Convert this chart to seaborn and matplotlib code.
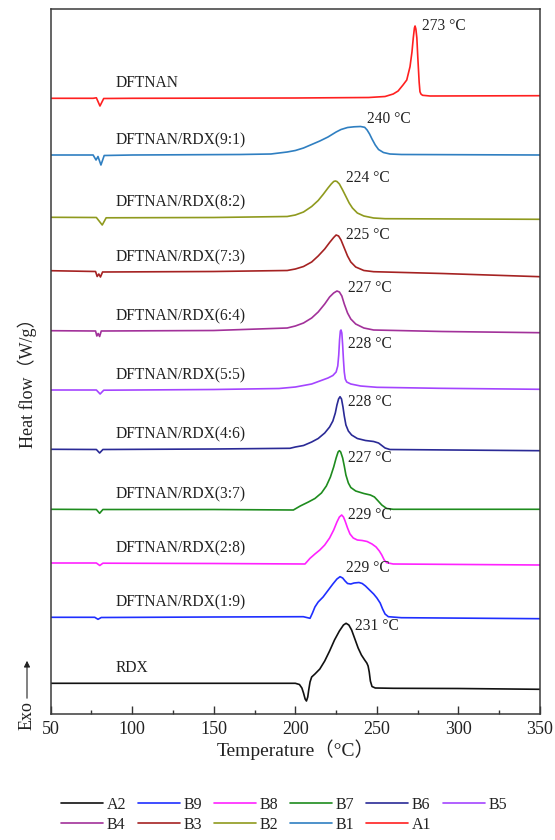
import numpy as np
import pandas as pd
import matplotlib
matplotlib.use("Agg")
import matplotlib.pyplot as plt
import seaborn as sns

# ---------------- data (heat flow in arbitrary stacked units) ----------------
series_codes = ["A1", "B1", "B2", "B3", "B4", "B5", "B6", "B7", "B8", "B9", "A2"]
series_names = ["DFTNAN", "DFTNAN/RDX(9:1)", "DFTNAN/RDX(8:2)", "DFTNAN/RDX(7:3)",
                "DFTNAN/RDX(6:4)", "DFTNAN/RDX(5:5)", "DFTNAN/RDX(4:6)",
                "DFTNAN/RDX(3:7)", "DFTNAN/RDX(2:8)", "DFTNAN/RDX(1:9)", "RDX"]
peak_labels = ["273 °C", "240 °C", "224 °C", "225 °C", "227 °C", "228 °C",
               "228 °C", "227 °C", "229 °C", "229 °C", "231 °C"]

T_A1 = [50, 76, 78, 80.2, 82.5, 100, 200, 245, 255, 260, 263, 266, 268.3, 270.3, 271.5,
        272.3, 273, 273.4, 273.9, 274.5, 275, 275.5, 275.9, 276.4, 277, 278, 282.6, 350]
H_A1 = [615.7, 615.7, 616.2, 608, 615.5, 615.7, 616, 616.5, 617.5, 620, 623, 629, 634,
        647.3, 662, 676, 686, 688, 685, 676, 659, 644, 632, 622.3, 620, 618.7, 618, 618.3]

T_B1 = [50, 76, 77.8, 79, 80.8, 82.8, 100, 166, 185, 195, 200, 205, 210, 215, 220, 225,
        228, 232, 236, 240, 242.5, 244, 245.5, 247, 249, 251, 254, 258, 265, 350]
H_B1 = [559, 559, 554, 557.5, 549, 558.5, 559, 559.5, 560, 562, 563.5, 566, 569.5, 573,
        577, 582, 584.5, 586.5, 587.2, 587.5, 586.7, 584, 580, 575, 569, 564.5, 561.5,
        560, 559.5, 559]

T_B2 = [50, 78, 81.6, 84, 150, 195, 200, 205, 210, 214, 217, 220, 222, 223.5, 224.5,
        225.5, 227, 229, 231, 233, 235, 238, 242, 248, 255, 350]
H_B2 = [496.7, 496.5, 489, 496.2, 496.5, 497.5, 499, 502, 507.5, 513.5, 519.5, 526, 530,
        532.5, 533, 532.5, 530, 524, 517.5, 511, 506, 501, 498, 496, 495.3, 494.7]

T_B3 = [50, 77.5, 78.5, 79.5, 80.5, 81.8, 150, 195, 200, 205, 210, 214, 218, 221, 223.5,
        225, 226.5, 228, 230, 232, 234, 237, 242, 248, 290, 350]
H_B3 = [443.3, 442.5, 437.5, 440, 437, 442, 442.5, 443.5, 445, 447.5, 452, 458, 465,
        471.5, 476.5, 479, 478, 474, 466, 458, 452, 447, 443.5, 442.3, 440.5, 437.3]

T_B4 = [50, 77.5, 78.3, 79.1, 80, 81, 150, 195, 200, 205, 210, 214, 218, 221, 223.5,
        225.5, 227, 228.5, 230, 232, 234, 237, 242, 248, 290, 350]
H_B4 = [383.3, 383, 378, 380.5, 377.5, 383, 383.5, 386, 388, 391, 396, 402, 410, 417,
        421, 423, 422, 418, 410, 401, 395, 390, 386, 384, 382.5, 381.3]

T_B5 = [50, 78, 80.3, 82.5, 150, 190, 200, 210, 215, 220, 223, 225, 226, 226.6, 227.1,
        227.6, 228, 228.5, 229, 229.5, 230, 230.6, 231.5, 234, 240, 250, 288, 350]
H_B5 = [324, 324, 320, 323.8, 324.5, 325.5, 327, 330, 333, 336, 338.5, 342, 348, 359,
        374, 383, 384, 381, 369, 354, 342, 335, 332, 330, 328, 326.7, 325.7, 324.7]

T_B6 = [50, 78, 80, 82, 150, 196.7, 200, 205, 210, 214, 218, 221, 223, 224.5, 225.5,
        226.5, 227.4, 228.3, 229.2, 230, 231, 232.5, 234.5, 238, 243, 248, 251, 253, 255,
        258, 350]
H_B6 = [264.7, 264.5, 261, 264.5, 265, 265.7, 267, 268.5, 272, 275.5, 281, 287, 293,
        301, 309, 315, 317.3, 315, 307, 298, 289, 283, 279, 275.5, 273.5, 272.5, 271,
        268.5, 266, 264.5, 263.3]

T_B7 = [50, 78, 80, 82, 150, 198.8, 203, 208, 212, 216, 219, 221.5, 223.5, 225, 226.2,
        227, 227.8, 229, 230, 231, 232.5, 234, 237, 242, 246, 248.5, 250.5, 253, 256,
        260, 350]
H_B7 = [204.7, 204.5, 200.7, 204.5, 204.5, 204, 208, 212, 215.5, 221, 228, 237, 247,
        256, 262, 263.3, 262, 256, 248, 239, 231, 226.5, 223, 220.5, 219, 217, 213.5,
        209, 205.5, 204.7, 204.7]

T_B8 = [50, 78, 80.1, 82, 150, 205.9, 207, 209, 212, 215, 218, 221, 223.5, 225.5, 227,
        228.4, 229.5, 230.5, 232, 233.5, 235.5, 238, 241, 244, 247, 249.5, 251.5, 253,
        254.5, 256, 260, 350]
H_B8 = [151, 151, 148.5, 150.8, 150.5, 150, 152, 155.7, 160, 164, 169, 176, 184, 192,
        197, 199, 197, 193, 186, 180, 176, 174, 173.5, 172.5, 170, 167, 163, 159, 154,
        151.3, 150, 149]

T_B9 = [50, 77, 79, 81, 150, 204.9, 209, 210.5, 212, 214, 217, 220, 223, 225.5, 227.4,
        229, 230.5, 232, 234, 236, 239, 241, 243, 245.5, 248, 250, 252, 253.5, 255, 257,
        265, 350]
H_B9 = [96.7, 96.7, 94.7, 96.5, 97, 97.3, 95.7, 101, 107, 112, 117, 123.5, 130, 135,
        137.3, 136, 133, 130.5, 130, 131, 131.5, 130.5, 128, 124, 120, 116, 111, 105, 100,
        97.3, 96.3, 95.3]

T_A2 = [50, 150, 200, 202.5, 204, 205, 206, 206.8, 207.6, 208.2, 209, 210, 212, 215,
        218, 221, 224, 227, 229.5, 231.1, 232.8, 234.5, 236.5, 238.5, 240.5, 242.5, 243.8,
        244.6, 245.3, 246, 247, 249, 260, 300, 350]
H_A2 = [30.7, 30.7, 30.7, 29.5, 26, 21, 15, 13, 17, 24, 32, 37, 40, 45, 53, 63, 74, 83,
        89, 90.7, 89, 84, 75, 66, 59, 54, 51, 48, 42, 33, 27.5, 26, 25.7, 25.5, 24.7]

temps = [T_A1, T_B1, T_B2, T_B3, T_B4, T_B5, T_B6, T_B7, T_B8, T_B9, T_A2]
flows = [H_A1, H_B1, H_B2, H_B3, H_B4, H_B5, H_B6, H_B7, H_B8, H_B9, H_A2]

x_ticks = [50, 100, 150, 200, 250, 300, 350]

# ---------------- styles ----------------
colors = {"A1": "#ff2020", "B1": "#2f7fc1", "B2": "#8f9a1e", "B3": "#a52222",
          "B4": "#a2319a", "B5": "#a445ff", "B6": "#2a2a96", "B7": "#1e8c1e",
          "B8": "#ff22ff", "B9": "#1f2fff", "A2": "#111111"}
# (dx, dy) offsets in points for the peak-temperature labels
peak_offsets = [(4.8, 0), (4.3, 5.2), (7.8, 2), (7.2, 0), (8.2, 2), (5.3, -10),
                (6, -3.6), (6.5, -5.5), (4.8, 0), (4.3, 6), (6.5, -2)]

sns.set_theme(style="white")
serif = ["Liberation Serif", "DejaVu Serif"]
cjk = ["Liberation Serif", "Noto Sans CJK SC", "DejaVu Sans"]
plt.rcParams["font.family"] = serif
plt.rcParams["text.color"] = "#222222"

fig = plt.figure(figsize=(5.55, 8.40), dpi=100)
ax = fig.add_axes([50.7 / 555, 1 - 714 / 840, (540 - 50.7) / 555, (714 - 8.7) / 840])

frames = []
for code, T, H in zip(series_codes, temps, flows):
    frames.append(pd.DataFrame({"Temperature": T, "Heat flow": H, "code": code}))
df = pd.concat(frames, ignore_index=True)

handles = {}
for code in series_codes:
    sub = df[df["code"] == code]
    sns.lineplot(data=sub, x="Temperature", y="Heat flow", color=colors[code],
                 lw=1.2, sort=False, estimator=None, label=code, ax=ax)
    handles[code] = ax.get_lines()[-1]
if ax.get_legend() is not None:
    ax.get_legend().remove()

# curve names and peak labels
for i, code in enumerate(series_codes):
    T = np.asarray(temps[i]); H = np.asarray(flows[i])
    y_at = np.interp(90, T, H)
    ax.annotate(series_names[i], xy=(90, y_at), xytext=(0, 10.8),
                textcoords="offset points", ha="left", va="center",
                fontsize=11.2, color="#222222")
    k = int(np.argmax(H))
    ax.annotate(peak_labels[i], xy=(T[k], H[k]), xytext=peak_offsets[i],
                textcoords="offset points", ha="left", va="center",
                fontsize=11.2, color="#222222")

ax.set_xlim(50, 350)
ax.set_ylim(0, 705.3)
ax.set_yticks([])
ax.set_xticks(x_ticks)
ax.set_xticklabels([str(t) for t in x_ticks])
ax.set_xticks(np.arange(75, 350, 50), minor=True)
ax.tick_params(axis="x", which="major", direction="in", length=6, width=1.0,
               labelsize=13, pad=5, bottom=True, top=False, colors="#333333",
               labelcolor="#222222")
ax.tick_params(axis="x", which="minor", direction="in", length=3, width=1.0,
               bottom=True, top=False, colors="#333333")
for s in ax.spines.values():
    s.set_color("#3a3a3a")
    s.set_linewidth(1.1)
    s.set_visible(True)

ax.set_xlabel("Temperature（°C）", fontsize=14, family=cjk, labelpad=1, color="#222222")
ax.set_ylabel("")

fig.text(27 / 555, 1 - 379 / 840, "Heat flow（W/g）", rotation=90, ha="center",
         va="center", fontsize=13, family=cjk, color="#222222")
fig.text(27 / 555, 1 - 716 / 840, "Exo", rotation=90, ha="center", va="center",
         fontsize=13, color="#222222")
ax.annotate("", xy=(27 / 555, 1 - 658 / 840), xycoords="figure fraction",
            xytext=(27 / 555, 1 - 701 / 840), textcoords="figure fraction",
            arrowprops=dict(arrowstyle="-|>", lw=0.8, color="#222222",
                            mutation_scale=9), annotation_clip=False)

legend_order = ["A2", "B4", "B9", "B3", "B8", "B2", "B7", "B1", "B6", "A1", "B5"]
fig.legend([handles[c] for c in legend_order], legend_order, ncol=6,
           loc="upper left", bbox_to_anchor=(61 / 555, 1 - 797 / 840),
           frameon=False, fontsize=11.5, handlelength=2.6, handletextpad=0.25,
           columnspacing=0.75, labelspacing=0.25, borderpad=0, borderaxespad=0)

fig.savefig("out.png", dpi=100)
